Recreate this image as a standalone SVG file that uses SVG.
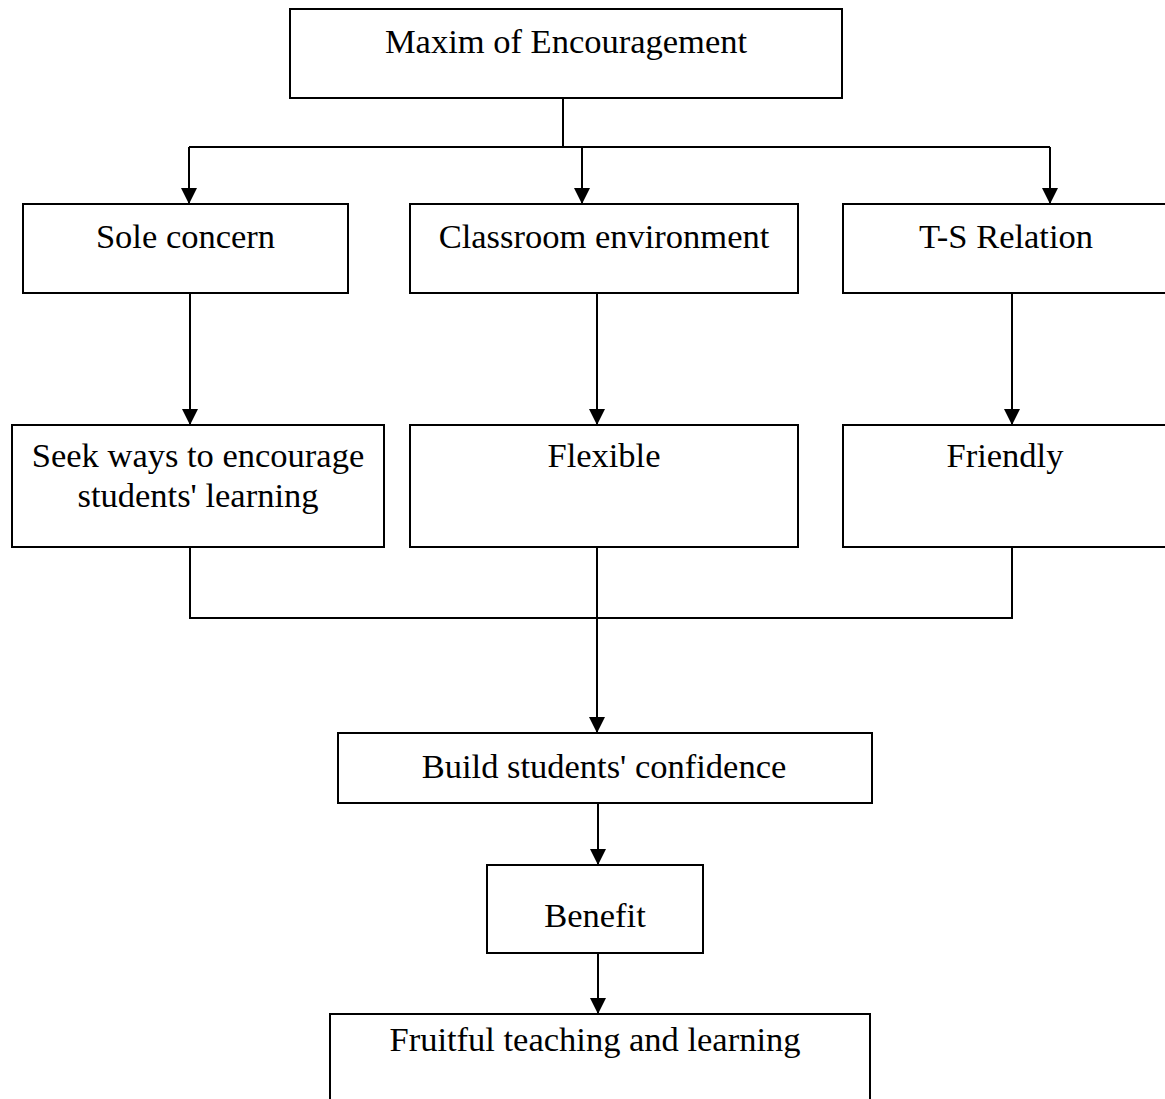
<svg xmlns="http://www.w3.org/2000/svg" width="1165" height="1099" viewBox="0 0 1165 1099">
<style>
.box{fill:#fff;stroke:#000;stroke-width:2}
.t{font-family:"Liberation Serif","Times New Roman",serif;font-size:34.5px;fill:#000;text-anchor:middle}
.c{fill:none;stroke:#000;stroke-width:2}
.a{marker-end:url(#arr)}
</style>
<defs>
<marker id="arr" viewBox="0 0 16 16" refX="16" refY="8" markerWidth="16" markerHeight="16" markerUnits="userSpaceOnUse" orient="auto">
<path d="M0,0 L16,8 L0,16 Z" fill="#000"/>
</marker>
</defs>
<rect width="1165" height="1099" fill="#fff"/>
<g id="connectors">
<path class="c" d="M563,98 V147"/>
<path class="c" d="M189,147 H1050"/>
<path class="c a" d="M189,147 V204"/>
<path class="c a" d="M582,147 V204"/>
<path class="c a" d="M1050,147 V204"/>
<path class="c a" d="M190,293 V425"/>
<path class="c a" d="M597,293 V425"/>
<path class="c a" d="M1012,293 V425"/>
<path class="c" d="M190,547 V618 H1012 V547"/>
<path class="c a" d="M597,547 V733"/>
<path class="c a" d="M598,803 V865"/>
<path class="c a" d="M598,953 V1014"/>
</g>
<g id="maxim">
<rect class="box" x="290" y="9" width="552" height="89"/>
<text class="t" x="566" y="53">Maxim of Encouragement</text>
</g>
<g id="sole-concern">
<rect class="box" x="23" y="204" width="325" height="89"/>
<text class="t" x="185.5" y="248">Sole concern</text>
</g>
<g id="classroom-environment">
<rect class="box" x="410" y="204" width="388" height="89"/>
<text class="t" x="604" y="248">Classroom environment</text>
</g>
<g id="ts-relation">
<rect class="box" x="843" y="204" width="330" height="89"/>
<text class="t" x="1006" y="248">T-S Relation</text>
</g>
<g id="seek-ways">
<rect class="box" x="12" y="425" width="372" height="122"/>
<text class="t" x="198" y="467">Seek ways to encourage</text>
<text class="t" x="198" y="507">students' learning</text>
</g>
<g id="flexible">
<rect class="box" x="410" y="425" width="388" height="122"/>
<text class="t" x="604" y="467">Flexible</text>
</g>
<g id="friendly">
<rect class="box" x="843" y="425" width="330" height="122"/>
<text class="t" x="1005" y="467">Friendly</text>
</g>
<g id="build-confidence">
<rect class="box" x="338" y="733" width="534" height="70"/>
<text class="t" x="604" y="778">Build students' confidence</text>
</g>
<g id="benefit">
<rect class="box" x="487" y="865" width="216" height="88"/>
<text class="t" x="595" y="927">Benefit</text>
</g>
<g id="fruitful">
<rect class="box" x="330" y="1014" width="540" height="100"/>
<text class="t" x="595" y="1051">Fruitful teaching and learning</text>
</g>
</svg>
